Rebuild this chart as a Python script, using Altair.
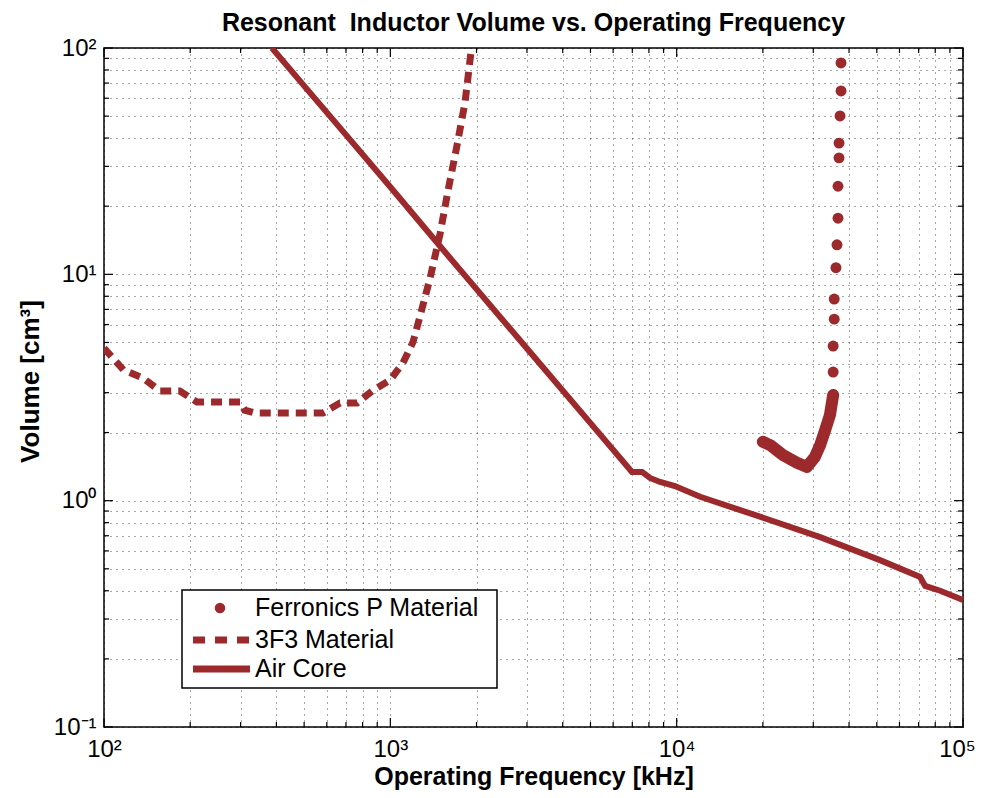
import altair as alt
import pandas as pd

title_text = "Resonant\u00a0 Inductor Volume vs. Operating Frequency"
x_title = "Operating Frequency [kHz]"
y_title = "Volume [cm³]"
series_names = ["Ferronics P Material", "3F3 Material", "Air Core"]
color = "#9c2a2c"

# Air core inductor
air_freq = [386, 500, 700, 1000, 1500, 2000, 3000, 5000, 6980, 7570, 8070, 8750,
            9860, 12080, 19540, 31700, 51300, 70800, 73800, 83200, 100000]
air_vol = [100, 68, 41.3, 24.3, 13.2, 8.6, 4.7, 2.2, 1.34, 1.34, 1.26, 1.21,
           1.16, 1.04, 0.85, 0.69, 0.546, 0.46, 0.42, 0.40, 0.364]

# 3F3 material
f3_freq = [100, 117, 137, 157, 184, 211, 299, 310, 336, 582, 667, 765, 863, 998,
           1107, 1200, 1259, 1377, 1493, 1592, 1711, 1824, 1920]
f3_vol = [4.72, 3.78, 3.48, 3.05, 3.05, 2.73, 2.73, 2.51, 2.44, 2.44, 2.70, 2.70,
          3.05, 3.41, 4.06, 5.02, 6.28, 9.63, 15.2, 23.6, 37.3, 57.7, 100]

# Ferronics P material: separate dots
fp_freq = [37500, 37500, 37200, 36900, 36900, 36600, 36600, 36300, 36000,
           35500, 35500, 35200, 35200, 35200]
fp_vol = [85.9, 64.6, 50.1, 38.0, 32.7, 24.5, 17.7, 13.5, 10.7,
          7.78, 6.34, 4.82, 3.70, 2.93]
# Ferronics P material: densely packed part (appears as a thick curve)
fpd_freq = [35200, 34300, 33000, 31700, 30400, 28500, 26300, 23500, 21200, 20000]
fpd_vol = [2.93, 2.39, 2.05, 1.76, 1.56, 1.41, 1.47, 1.59, 1.76, 1.82]

x_major = [100, 1000, 10000, 100000]
x_major_labels = ["10²", "10³", "10⁴", "10⁵"]
y_major = [0.1, 1, 10, 100]
y_major_labels = ["10⁻¹", "10⁰", "10¹", "10²"]


def all_ticks(majors):
    vals = []
    for m in majors[:-1]:
        for k in range(1, 10):
            vals.append(round(m * k, 6))
    vals.append(majors[-1])
    return vals


def label_expr(majors, labels):
    expr = "''"
    for m, l in reversed(list(zip(majors, labels))):
        expr = f"datum.value === {m} ? '{l}' : ({expr})"
    return expr


W, H = 859, 679
FONT = "Liberation Sans"

x_scale = alt.Scale(type="log", domain=[100, 100000], nice=False)
y_scale = alt.Scale(type="log", domain=[0.1, 100], nice=False)

grid_kw = dict(gridDash=[1, 5], gridColor="#000", gridOpacity=0.7, gridWidth=1)

x_axis = alt.Axis(values=all_ticks(x_major), labelExpr=label_expr(x_major, x_major_labels),
                  title=x_title, grid=True, ticks=False, domain=False,
                  labelFontSize=24, labelFont=FONT, labelColor="black", labelPadding=10,
                  labelOffset={"condition": {"test": f"datum.value === {x_major[-1]}", "value": -6}, "value": 0},
                  titleFontSize=25, titleFont=FONT, titleFontWeight="bold", titleColor="black",
                  titleY=49, titleBaseline="middle", labelFlush=False,
                  labelOverlap=False, **grid_kw)
y_axis = alt.Axis(values=all_ticks(y_major), labelExpr=label_expr(y_major, y_major_labels),
                  title=y_title, grid=True, ticks=False, domain=False,
                  labelFontSize=24, labelFont=FONT, labelColor="black", labelPadding=8,
                  titleFontSize=26, titleFont=FONT, titleFontWeight="bold", titleColor="black",
                  titleX=-74, titleY=333, titleBaseline="middle", titleAngle=-90,
                  labelFlush=False, labelOverlap=False, **grid_kw)

df_air = pd.DataFrame({"f": air_freq, "v": air_vol})
df_f3 = pd.DataFrame({"f": f3_freq, "v": f3_vol})
df_fp = pd.DataFrame({"f": fp_freq, "v": fp_vol})
df_fpd = pd.DataFrame({"f": fpd_freq, "v": fpd_vol})

X = alt.X("f:Q", scale=x_scale, axis=x_axis)
Y = alt.Y("v:Q", scale=y_scale, axis=y_axis)

air = alt.Chart(df_air).mark_line(color=color, strokeWidth=6, clip=True).encode(x=X, y=Y)
f3 = alt.Chart(df_f3).mark_line(color=color, strokeWidth=7, strokeDash=[11, 7], clip=True).encode(x=X, y=Y)
fp_pts = alt.Chart(df_fp).mark_point(color=color, filled=True, size=120, opacity=1, clip=True).encode(x=X, y=Y)
fp_dense = alt.Chart(df_fpd).mark_line(color=color, strokeWidth=12, strokeCap="round",
                                       strokeJoin="round", clip=True).encode(x=X, y=Y)

# inward tick marks on all four sides of the frame
xt = all_ticks(x_major)
yt = all_ticks(y_major)
df_xt = pd.DataFrame({"f": xt, "major": [t in x_major for t in xt]})
df_yt = pd.DataFrame({"v": yt, "major": [t in y_major for t in yt]})
Xt = alt.X("f:Q", scale=x_scale)
Yt = alt.Y("v:Q", scale=y_scale)
tick_layers = []
for major, ln in [(True, 9), (False, 5)]:
    dx = df_xt[df_xt["major"] == major]
    dy = df_yt[df_yt["major"] == major]
    tick_layers += [
        alt.Chart(dx).mark_rule(color="black", strokeWidth=1.2).encode(x=Xt, y=alt.value(H - ln), y2=alt.value(H)),
        alt.Chart(dx).mark_rule(color="black", strokeWidth=1.2).encode(x=Xt, y=alt.value(0), y2=alt.value(ln)),
        alt.Chart(dy).mark_rule(color="black", strokeWidth=1.2).encode(y=Yt, x=alt.value(0), x2=alt.value(ln)),
        alt.Chart(dy).mark_rule(color="black", strokeWidth=1.2).encode(y=Yt, x=alt.value(W - ln), x2=alt.value(W)),
    ]

one = pd.DataFrame({"k": [0]})
legend_box = alt.Chart(one).mark_rect(fill="white", stroke="black", strokeWidth=1.5).encode(
    x=alt.value(78), x2=alt.value(393), y=alt.value(542), y2=alt.value(640))
leg_pt = alt.Chart(one).mark_point(color=color, filled=True, size=110, opacity=1).encode(
    x=alt.value(116), y=alt.value(560))
leg_dash = alt.Chart(one).mark_rule(color=color, strokeWidth=7, strokeDash=[12, 10]).encode(
    x=alt.value(89), x2=alt.value(148), y=alt.value(592))
leg_solid = alt.Chart(one).mark_rule(color=color, strokeWidth=7).encode(
    x=alt.value(89), x2=alt.value(146), y=alt.value(621))
leg_texts = [
    alt.Chart(one).mark_text(align="left", baseline="middle", fontSize=25, font=FONT, color="black").encode(
        x=alt.value(151), y=alt.value(yy), text=alt.value(name))
    for name, yy in zip(series_names, [560, 592, 621])
]

chart = alt.layer(*tick_layers, air, f3, fp_dense, fp_pts, legend_box, leg_pt, leg_dash, leg_solid,
                  *leg_texts).properties(
    width=W, height=H,
    title=alt.TitleParams(title_text, fontSize=25, font=FONT, fontWeight="bold", color="black",
                          anchor="middle", offset=0),
    autosize=alt.AutoSizeParams(type="none"),
    padding={"left": 96, "top": 40, "right": 13, "bottom": 63},
    background="white",
).configure_view(stroke="black", strokeWidth=1.5)

chart.save("out.html", embed_options={"renderer": "svg", "actions": False})
